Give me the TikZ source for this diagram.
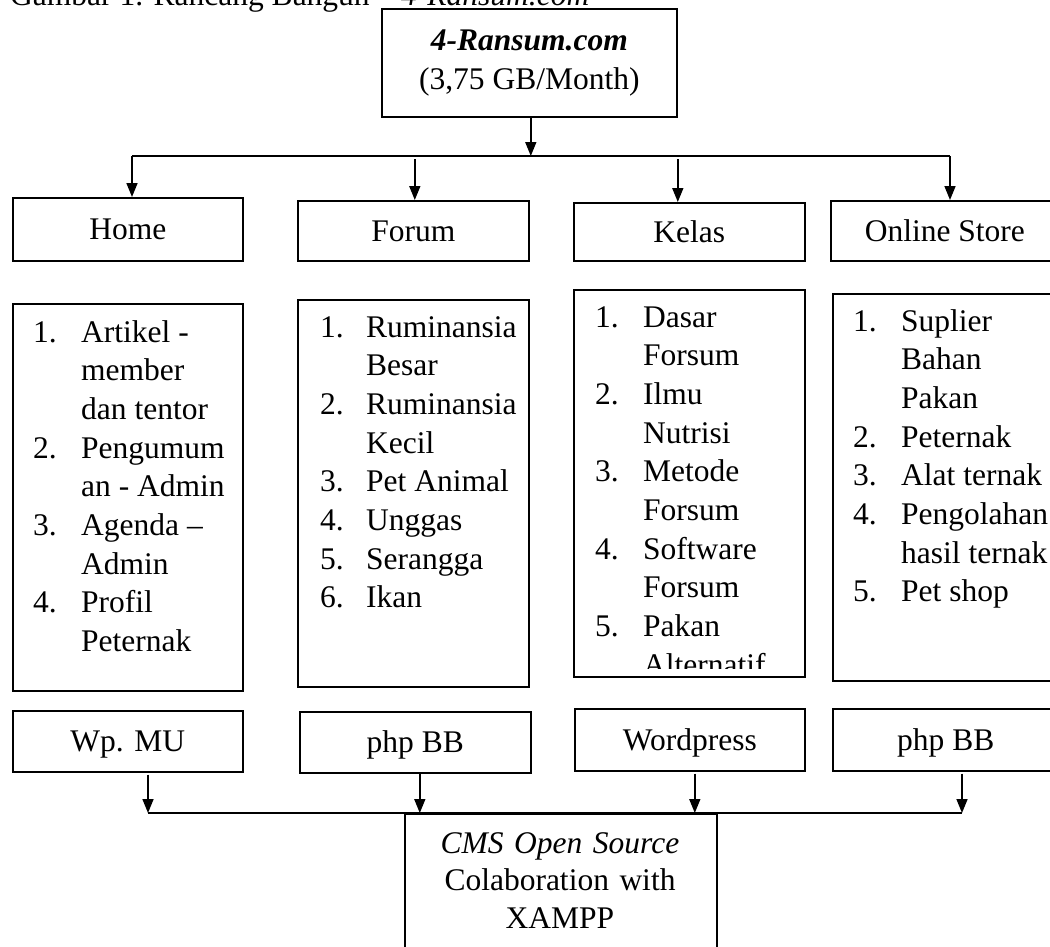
\documentclass[tikz,border=0pt]{standalone}
\usepackage{fontspec}
\setmainfont{Liberation Serif}
\usepackage{tikz}
\usetikzlibrary{arrows.meta}

\newcommand{\boxfont}{\fontsize{31.5pt}{38.7pt}\selectfont}

\begin{document}
\begin{tikzpicture}[x=1pt,y=-1pt,font=\boxfont,
    cell/.style={draw,line width=1.6pt,inner sep=0pt,anchor=north west},
    headbox/.style={cell,minimum height=60pt,text height=21pt,text depth=0pt},
    items/.style={inner sep=0pt,anchor=base west},
    arrdown/.style={line width=1.6pt,-{Triangle[length=14pt,width=11pt]}},
    bus/.style={line width=1.6pt}]
    \clip (0,0) rectangle (1050,946);
    %
    \node[anchor=base west,inner sep=0pt] (caption) at (10,5)
      {Gambar 1. Rancang Bangun -- \textit{4-Ransum.com}};
    \node[cell,minimum width=295pt,minimum height=108pt,align=center] (site) at (381,8)
      {\textbf{\textit{4-Ransum.com}}\\(3,75 GB/Month)};
    %
    \node[headbox,minimum width=230pt,minimum height=63pt] (home) at (12,197) {Home};
    \node[headbox,minimum width=231pt] (forum) at (297,200) {Forum};
    \node[headbox,minimum width=231pt,minimum height=58pt] (kelas) at (573,202) {Kelas};
    \node[headbox,minimum width=228pt] (store) at (830,200) {Online Store};
    %
    \node[cell,minimum width=230pt,minimum height=387pt] (homebox) at (12,303) {};
    \node[cell,minimum width=231pt,minimum height=387pt] (forumbox) at (297,299) {};
    \node[cell,minimum width=231pt,minimum height=387pt] (kelasbox) at (573,289) {};
    \node[cell,minimum width=226pt,minimum height=387pt] (storebox) at (832,293) {};
    %
    \node[items] (homelist) at (33,342) {\begin{tabular}[t]{@{}p{48pt}@{}l@{}}
      1. & Artikel -\\ & member\\ & dan tentor\\
      2. & Pengumum\\ & an - Admin\\
      3. & Agenda --\\ & Admin\\
      4. & Profil\\ & Peternak
    \end{tabular}};
    \node[items] (forumlist) at (320,337) {\begin{tabular}[t]{@{}p{46pt}@{}l@{}}
      1. & Ruminansia\\ & Besar\\
      2. & Ruminansia\\ & Kecil\\
      3. & Pet Animal\\
      4. & Unggas\\
      5. & Serangga\\
      6. & Ikan
    \end{tabular}};
    \begin{scope}
      \clip (573,289) rectangle (804,668);
      \node[items] (kelaslist) at (595,327) {\begin{tabular}[t]{@{}p{48pt}@{}l@{}}
        1. & Dasar\\ & Forsum\\
        2. & Ilmu\\ & Nutrisi\\
        3. & Metode\\ & Forsum\\
        4. & Software\\ & Forsum\\
        5. & Pakan\\ & Alternatif
      \end{tabular}};
    \end{scope}
    \node[items] (storelist) at (853,331) {\begin{tabular}[t]{@{}p{48pt}@{}l@{}}
      1. & Suplier\\ & Bahan\\ & Pakan\\
      2. & Peternak\\
      3. & Alat ternak\\
      4. & Pengolahan\\ & hasil ternak\\
      5. & Pet shop
    \end{tabular}};
    %
    \node[headbox,minimum width=230pt,minimum height=61pt] (wpmu) at (12,710) {Wp. MU};
    \node[headbox,minimum width=231pt,minimum height=61pt] (phpbb) at (299,711) {php BB};
    \node[headbox,minimum width=230pt,minimum height=62pt] (wordpress) at (574,708) {Wordpress};
    \node[headbox,minimum width=226pt,minimum height=62pt] (phpbbb) at (832,708) {php BB};
    %
    \node[cell,minimum width=312pt,minimum height=180pt] (cms) at (404,813) {};
    \node[anchor=base,inner sep=0pt,text width=312pt,align=center,
      font=\fontsize{31.5pt}{37.5pt}\selectfont] (cmstext) at (560,853)
      {\textit{CMS Open Source}\\Colaboration with\\XAMPP};
    %
    \coordinate (busL) at (132,156);
    \coordinate (busR) at (950,156);
    \draw[arrdown] ([xshift=1.5pt]site.south) -- ([xshift=1.5pt]site.south |- busL);
    \draw[bus] (busL) -- (busR);
    \draw[arrdown] (busL) -- (busL |- home.north);
    \draw[arrdown] ([xshift=1.5pt,yshift=-3pt]forum.north |- busL) -- ([xshift=1.5pt]forum.north);
    \draw[arrdown] ([xshift=-11.5pt,yshift=-3pt]kelas.north |- busL) -- ([xshift=-11.5pt]kelas.north);
    \draw[arrdown] (busR) -- (busR |- store.north);
    %
    \coordinate (cmsL) at (148,813);
    \coordinate (cmsR) at (962,813);
    \draw[arrdown] ([yshift=-2pt]wpmu.south -| cmsL) -- (cmsL);
    \draw[arrdown] ([xshift=4.5pt]phpbb.south) -- ([xshift=4.5pt]phpbb.south |- cmsL);
    \draw[arrdown] ([xshift=5pt,yshift=-2pt]wordpress.south) -- ([xshift=5pt]wordpress.south |- cmsL);
    \draw[arrdown] ([yshift=-2pt]phpbbb.south -| cmsR) -- (cmsR);
    \draw[bus] (cmsL) -- (cmsR);
\end{tikzpicture}
\end{document}
